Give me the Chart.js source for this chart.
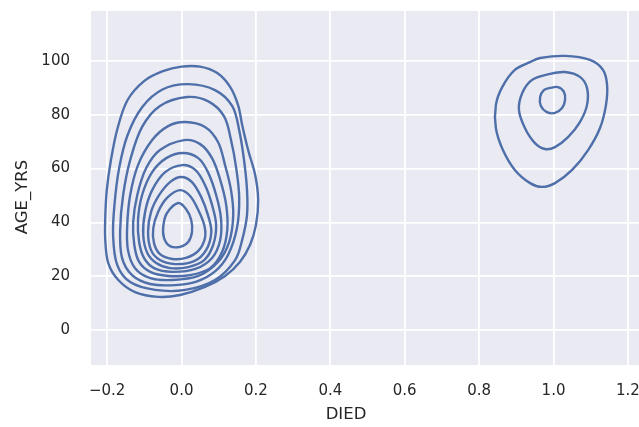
<!DOCTYPE html>
<html>
<head>
<meta charset="utf-8">
<script src="https://cdn.jsdelivr.net/npm/chart.js@4/dist/chart.umd.min.js"></script>
<style>
html,body{margin:0;padding:0;background:#ffffff;}
#c{display:block;}
</style>
</head>
<body>
<canvas id="c" width="639" height="427"></canvas>
<script>
// ---- axis ticks ----
const xTickValues = [-0.2, 0.0, 0.2, 0.4, 0.6, 0.8, 1.0, 1.2];
const xTickLabels = ['\u22120.2', '0.0', '0.2', '0.4', '0.6', '0.8', '1.0', '1.2'];
const yTickValues = [0, 20, 40, 60, 80, 100];
const yTickLabels = ['0', '20', '40', '60', '80', '100'];
const xAxisLabel = 'DIED';
const yAxisLabel = 'AGE_YRS';

// ---- KDE contour lines, DIED = 0 (outer to inner), [DIED, AGE_YRS] ----
const died0Level1 = [[0.0,97.9],[0.05,97.9],[0.096,95.5],[0.131,90.3],[0.152,83.6],[0.163,76.2],[0.179,66.9],[0.198,57.6],[0.206,48.3],[0.200,39.0],[0.184,31.6],[0.157,25.3],[0.117,20.1],[0.063,16.0],[-0.004,13.0],[-0.063,12.3],[-0.125,14.1],[-0.17,18.6],[-0.197,24.9],[-0.205,33.5],[-0.205,42],[-0.201,52],[-0.190,63],[-0.172,75],[-0.145,85.5],[-0.100,92.6],[-0.050,96.2]];
const died0Level2 = [[0.018,91.4],[0.090,89.2],[0.136,83.3],[0.155,74.3],[0.168,63.2],[0.176,52.0],[0.176,42.7],[0.163,33.5],[0.144,26.0],[0.090,18.6],[0.010,14.9],[-0.071,14.9],[-0.138,17.8],[-0.173,24.2],[-0.184,35.3],[-0.180,47],[-0.168,60],[-0.145,72.5],[-0.105,83],[-0.05,89.5]];
const died0Level3 = [[0.015,86.6],[0.072,85],[0.114,79.5],[0.133,70.6],[0.147,60.2],[0.155,49.1],[0.149,37.9],[0.125,27.9],[0.090,21.8],[0.040,18.0],[-0.017,16.7],[-0.084,17.1],[-0.133,20.4],[-0.160,26.8],[-0.165,37.2],[-0.157,50.2],[-0.138,63.2],[-0.106,75.5],[-0.058,83.3]];
const died0Level4 = [[0.010,77.3],[0.063,75.5],[0.098,69.9],[0.117,61.3],[0.133,52.0],[0.139,42.7],[0.128,32.7],[0.098,25.3],[0.045,20.1],[-0.025,18.6],[-0.084,19.3],[-0.125,23.0],[-0.144,29.7],[-0.146,39.0],[-0.138,50.2],[-0.117,61.3],[-0.079,70.6],[-0.036,75.8]];
const died0Level5 = [[0.007,70.6],[0.050,69.1],[0.082,63.9],[0.104,55.8],[0.120,46.5],[0.123,37.2],[0.109,29.0],[0.077,23.0],[0.023,20.4],[-0.036,20.1],[-0.084,21.6],[-0.114,25.3],[-0.127,31.6],[-0.130,40.1],[-0.119,50.2],[-0.095,60.2],[-0.058,66.9]];
const died0Level6 = [[0.004,65.8],[0.045,63.9],[0.071,58.7],[0.093,50.2],[0.106,41.6],[0.104,33.5],[0.082,26.8],[0.037,22.7],[-0.025,21.6],[-0.074,23.0],[-0.101,26.8],[-0.114,32.7],[-0.117,40.9],[-0.106,50.2],[-0.079,58.7],[-0.041,63.9]];
const died0Level7 = [[0.002,61.3],[0.037,59.5],[0.063,53.9],[0.082,46.5],[0.093,39.0],[0.085,31.6],[0.061,26.0],[0.018,23.4],[-0.031,23.0],[-0.068,24.9],[-0.092,28.6],[-0.103,35.3],[-0.098,43.9],[-0.079,52.0],[-0.044,58.7]];
const died0Level8 = [[-0.001,56.9],[0.028,55.0],[0.053,49.4],[0.071,42.7],[0.080,36.4],[0.066,29.7],[0.034,25.6],[-0.017,24.5],[-0.058,26.0],[-0.082,29.7],[-0.090,36.4],[-0.082,43.9],[-0.060,50.2],[-0.031,55.0]];
const died0Level9 = [[-0.004,52.0],[0.023,49.8],[0.045,44.6],[0.061,39.0],[0.063,34.2],[0.045,29.4],[0.012,26.8],[-0.025,26.4],[-0.058,28.2],[-0.074,32.3],[-0.076,37.9],[-0.063,43.9],[-0.039,49.1]];
const died0Level10 = [[-0.009,47.2],[0.012,45.0],[0.026,40.9],[0.028,36.4],[0.018,32.7],[-0.004,30.9],[-0.031,31.2],[-0.047,34.2],[-0.049,38.7],[-0.039,43.5]];

// ---- KDE contour lines, DIED = 1 ----
const died1Level1 = [[0.964,101.1],[1.031,101.9],[1.098,100.4],[1.133,96.7],[1.144,91.1],[1.141,83.6],[1.125,75.1],[1.093,66.9],[1.05,59.5],[1.004,54.6],[0.969,53.2],[0.937,54.6],[0.896,59.5],[0.864,66.9],[0.845,75.1],[0.845,83.6],[0.862,90.3],[0.896,96.7],[0.937,99.6]];
const died1Level2 = [[0.991,95.2],[1.031,95.9],[1.071,94.1],[1.09,90.0],[1.09,83.6],[1.071,77.3],[1.039,71.7],[1.004,68.0],[0.977,67.3],[0.95,69.5],[0.923,75.1],[0.907,81.8],[0.916,88.1],[0.942,92.9]];
const died1Level3 = [[0.991,90.0],[1.012,90.3],[1.028,88.5],[1.031,85.5],[1.023,82.5],[1.004,80.7],[0.982,81.0],[0.966,83.3],[0.964,86.6],[0.974,89.2]];

const contours = [died0Level1, died0Level2, died0Level3, died0Level4, died0Level5,
  died0Level6, died0Level7, died0Level8, died0Level9, died0Level10,
  died1Level1, died1Level2, died1Level3];

const LINE_COLOR = '#4e6fa9';
const TEXT_COLOR = '#262626';

const datasets = contours.map(c => ({
  data: c.map(p => ({x: p[0], y: p[1]})),
  showLine: true,
  borderColor: LINE_COLOR,
  borderWidth: 2.4,
  pointRadius: 0,
  pointHoverRadius: 0,
  tension: 0.35,
  fill: false
}));

// background of the plotting area (seaborn darkgrid)
const bgPlugin = {
  id: 'bg',
  beforeDraw(chart) {
    const {ctx, chartArea: a} = chart;
    ctx.save();
    ctx.fillStyle = '#eaeaf2';
    ctx.fillRect(a.left, a.top, a.right - a.left, a.bottom - a.top);
    ctx.restore();
  }
};

// contour lines are closed curves
const closePlugin = {
  id: 'closeContours',
  afterDatasetsUpdate(chart) {
    chart.data.datasets.forEach((ds, i) => {
      const line = chart.getDatasetMeta(i).dataset;
      if (!line) return;
      line._loop = true;
      line._fullLoop = true;
      line.points = line.points;
      line.updateControlPoints(chart.chartArea, 'x');
    });
  }
};

// axis titles
const titlePlugin = {
  id: 'axisTitles',
  afterDraw(chart) {
    const ctx = chart.ctx;
    ctx.save();
    ctx.fillStyle = TEXT_COLOR;
    ctx.font = '16.5px "DejaVu Sans"';
    ctx.textAlign = 'center';
    ctx.textBaseline = 'middle';
    ctx.fillText(xAxisLabel, 346, 415);
    ctx.translate(23, 197);
    ctx.rotate(-Math.PI / 2);
    ctx.fillText(yAxisLabel, 0, 0);
    ctx.restore();
  }
};

new Chart(document.getElementById('c'), {
  type: 'scatter',
  data: {datasets},
  plugins: [bgPlugin, closePlugin, titlePlugin],
  options: {
    responsive: false,
    devicePixelRatio: 1,
    animation: false,
    events: [],
    layout: {padding: {top: 11, left: 0, right: 0, bottom: 0}},
    plugins: {legend: {display: false}, tooltip: {enabled: false}},
    scales: {
      x: {
        type: 'linear',
        min: -0.2434,
        max: 1.2298,
        border: {display: false},
        grid: {color: '#ffffff', lineWidth: 1.8, drawTicks: false},
        afterBuildTicks(scale) { scale.ticks = xTickValues.map(v => ({value: v})); },
        afterFit(scale) { scale.height = 62; scale.paddingLeft = 0; scale.paddingRight = 0; },
        ticks: {
          padding: 17,
          color: TEXT_COLOR,
          font: {family: 'DejaVu Sans', size: 15},
          maxRotation: 0,
          autoSkip: false,
          callback(value) {
            const i = xTickValues.findIndex(v => Math.abs(v - value) < 1e-9);
            return i >= 0 ? xTickLabels[i] : '';
          }
        }
      },
      y: {
        type: 'linear',
        min: -13.01,
        max: 118.59,
        border: {display: false},
        grid: {color: '#ffffff', lineWidth: 1.8, drawTicks: false},
        afterBuildTicks(scale) { scale.ticks = yTickValues.map(v => ({value: v})); },
        afterFit(scale) { scale.width = 91; scale.paddingTop = 0; scale.paddingBottom = 0; },
        ticks: {
          padding: 21,
          color: TEXT_COLOR,
          font: {family: 'DejaVu Sans', size: 15},
          autoSkip: false,
          callback(value) {
            const i = yTickValues.indexOf(value);
            return i >= 0 ? yTickLabels[i] : '';
          }
        }
      }
    }
  }
});
</script>
</body>
</html>
